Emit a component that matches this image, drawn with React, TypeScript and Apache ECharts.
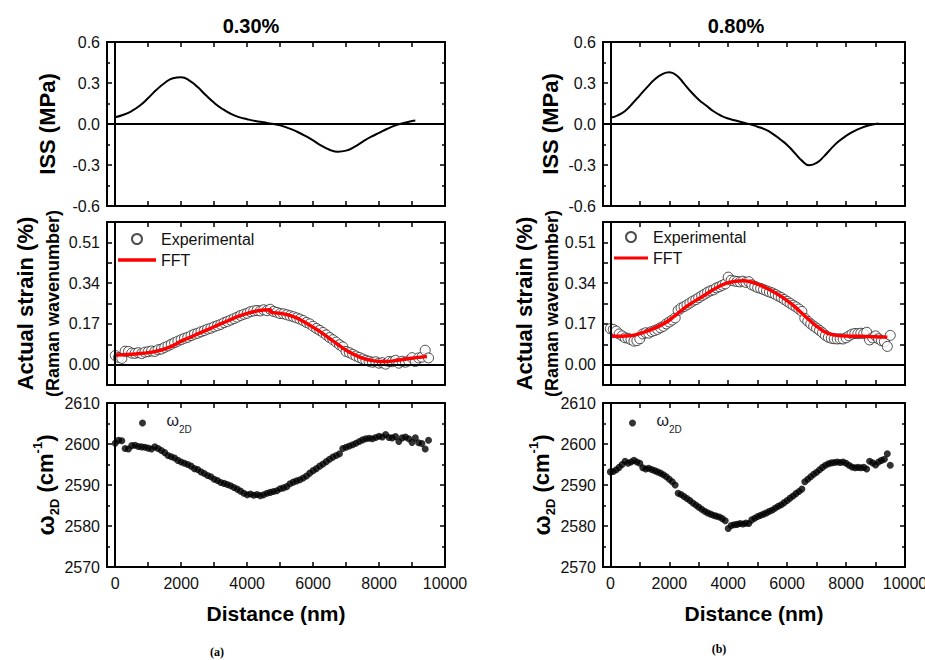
import React, { useEffect, useRef } from 'react';
import * as echarts from 'echarts';

// ---------- data ----------
const TITLES = ['0.30%', '0.80%'];
const PANEL_TAGS = ['(a)', '(b)'];

const DIST_TICKS = [0, 2000, 4000, 6000, 8000, 10000];
const ISS_TICKS = [-0.6, -0.3, 0, 0.3, 0.6];
const STRAIN_TICKS = [0, 0.17, 0.34, 0.51];
const OMEGA_TICKS = [2570, 2580, 2590, 2600, 2610];

// distance (nm) of the measured points
const DIST_EXP = [
  0, 100, 200, 300, 400, 500, 600, 700, 800, 900,
  1000, 1100, 1200, 1300, 1400, 1500, 1600, 1700, 1800, 1900,
  2000, 2100, 2200, 2300, 2400, 2500, 2600, 2700, 2800, 2900,
  3000, 3100, 3200, 3300, 3400, 3500, 3600, 3700, 3800, 3900,
  4000, 4100, 4200, 4300, 4400, 4500, 4600, 4700, 4800, 4900,
  5000, 5100, 5200, 5300, 5400, 5500, 5600, 5700, 5800, 5900,
  6000, 6100, 6200, 6300, 6400, 6500, 6600, 6700, 6800, 6900,
  7000, 7100, 7200, 7300, 7400, 7500, 7600, 7700, 7800, 7900,
  8000, 8100, 8200, 8300, 8400, 8500, 8600, 8700, 8800, 8900,
  9000, 9100, 9200, 9300, 9400, 9500,
];

// (a) 0.30 %
const STRAIN_A = [
  0.038, 0.030, 0.026, 0.056, 0.055, 0.048, 0.047, 0.050, 0.046, 0.052,
  0.054, 0.057, 0.055, 0.062, 0.065, 0.072, 0.078, 0.085, 0.092, 0.098,
  0.104, 0.110, 0.114, 0.121, 0.127, 0.131, 0.137, 0.142, 0.148, 0.152,
  0.158, 0.163, 0.168, 0.175, 0.180, 0.186, 0.192, 0.198, 0.205, 0.210,
  0.214, 0.221, 0.224, 0.226, 0.224, 0.229, 0.225, 0.231, 0.222, 0.218,
  0.213, 0.212, 0.208, 0.204, 0.200, 0.195, 0.190, 0.184, 0.176, 0.170,
  0.160, 0.151, 0.143, 0.134, 0.124, 0.113, 0.104, 0.094, 0.083, 0.074,
  0.055, 0.050, 0.043, 0.036, 0.030, 0.024, 0.018, 0.014, 0.010, 0.012,
  0.006, 0.008, 0.002, 0.013, 0.012, 0.018, 0.006, 0.014, 0.010, 0.016,
  0.029, 0.013, 0.028, 0.031, 0.060, 0.028,
];
const OMEGA_A = [
  2600.2, 2600.9, 2600.8, 2598.9, 2598.8, 2599.6, 2599.7, 2599.4, 2599.3, 2599.2,
  2599.0, 2598.8, 2599.3, 2598.9, 2598.4, 2597.9, 2597.2, 2596.9, 2596.6, 2596.0,
  2595.6, 2595.3, 2595.0, 2594.6, 2594.0, 2593.8, 2593.2, 2592.8, 2592.3, 2592.0,
  2591.4, 2591.1, 2590.6, 2590.4, 2590.1, 2589.8, 2589.4, 2589.0, 2588.5, 2588.0,
  2587.6, 2587.8, 2587.5, 2587.7, 2587.4, 2587.6, 2588.0, 2588.2, 2588.4, 2588.6,
  2589.1, 2589.3, 2589.6, 2590.3, 2590.7, 2591.0, 2591.3, 2591.7, 2592.2, 2592.9,
  2593.5, 2594.0, 2594.6, 2595.1, 2595.7, 2596.3, 2596.8, 2597.2, 2597.6, 2598.9,
  2599.2, 2599.5, 2599.8, 2600.2, 2600.6, 2601.0, 2601.3, 2601.4, 2601.3, 2601.6,
  2601.9, 2601.7, 2602.3, 2601.6, 2601.5, 2601.8, 2600.6, 2601.5, 2601.7, 2601.3,
  2600.4, 2601.5, 2600.3, 2600.1, 2598.8, 2600.9,
];

// (b) 0.80 %
const STRAIN_B = [
  0.150, 0.147, 0.140, 0.128, 0.120, 0.112, 0.110, 0.104, 0.098, 0.100,
  0.108, 0.128, 0.133, 0.131, 0.138, 0.142, 0.147, 0.154, 0.160, 0.170,
  0.178, 0.186, 0.195, 0.226, 0.236, 0.242, 0.249, 0.257, 0.265, 0.271,
  0.279, 0.287, 0.294, 0.302, 0.308, 0.312, 0.320, 0.325, 0.331, 0.337,
  0.365, 0.352, 0.349, 0.347, 0.345, 0.348, 0.343, 0.346, 0.333, 0.327,
  0.321, 0.318, 0.313, 0.308, 0.303, 0.299, 0.293, 0.286, 0.280, 0.272,
  0.264, 0.256, 0.248, 0.241, 0.232, 0.222, 0.193, 0.181, 0.170, 0.161,
  0.152, 0.143, 0.133, 0.122, 0.114, 0.110, 0.108, 0.107, 0.108, 0.107,
  0.112, 0.120, 0.127, 0.130, 0.129, 0.131, 0.129, 0.135, 0.103, 0.112,
  0.120, 0.108, 0.100, 0.096, 0.076, 0.122,
];
const OMEGA_B = [
  2593.2, 2593.3, 2593.7, 2594.3, 2595.0, 2595.8, 2595.3, 2595.6, 2596.0, 2595.6,
  2595.3, 2594.2, 2593.9, 2594.1, 2593.8, 2593.5, 2593.2, 2592.9, 2592.5, 2592.0,
  2591.4, 2590.8, 2590.0, 2588.0, 2587.7, 2587.2, 2586.7, 2586.2, 2585.6, 2585.1,
  2584.6, 2584.1, 2583.6, 2583.2, 2582.9, 2582.6, 2582.4, 2582.2, 2581.8, 2581.3,
  2579.4, 2580.1, 2580.3, 2580.4, 2580.6, 2580.5, 2580.7, 2580.6, 2581.5, 2581.9,
  2582.3, 2582.6, 2582.9, 2583.2, 2583.6, 2583.9, 2584.4, 2584.8, 2585.2, 2585.7,
  2586.2, 2586.8, 2587.3, 2587.9, 2588.4, 2589.0, 2590.8, 2591.4, 2592.0, 2592.6,
  2593.1, 2593.7, 2594.3, 2594.8, 2595.2, 2595.4, 2595.5, 2595.6, 2595.5, 2595.6,
  2595.3, 2594.8, 2594.4, 2594.2, 2594.3, 2594.2, 2594.3, 2593.9, 2595.8, 2595.4,
  2594.9, 2595.6, 2596.0, 2596.3, 2597.6, 2594.8,
];

// interfacial shear stress curves
const ISS_X = [
  0, 250, 500, 750, 1000, 1250, 1500, 1750, 2000, 2250,
  2500, 2750, 3000, 3250, 3500, 3750, 4000, 4250, 4500, 4750,
  5000, 5250, 5500, 5750, 6000, 6250, 6500, 6750, 7000, 7250,
  7500, 7750, 8000, 8250, 8500, 8750, 9000, 9100,
];
const ISS_A = [
  0.05, 0.068, 0.095, 0.135, 0.19, 0.25, 0.30, 0.335, 0.342, 0.318,
  0.27, 0.21, 0.155, 0.11, 0.075, 0.05, 0.035, 0.022, 0.012, 0.002,
  -0.01, -0.03, -0.055, -0.085, -0.12, -0.158, -0.188, -0.203, -0.195, -0.167,
  -0.13, -0.095, -0.065, -0.035, -0.01, 0.008, 0.022, 0.026,
];
const ISS_B = [
  0.045, 0.063, 0.095, 0.15, 0.21, 0.27, 0.325, 0.363, 0.378, 0.355,
  0.295, 0.232, 0.178, 0.135, 0.093, 0.062, 0.04, 0.025, 0.012, -0.003,
  -0.02, -0.04, -0.07, -0.11, -0.153, -0.21, -0.268, -0.302, -0.285, -0.237,
  -0.178, -0.127, -0.087, -0.055, -0.03, -0.012, 0.0, 0.004,
];

// FFT fits
const FFT_X_A = [
  0, 250, 500, 750, 1000, 1250, 1500, 1750, 2000, 2250,
  2500, 2750, 3000, 3250, 3500, 3750, 4000, 4250, 4500, 4700,
  4720, 5000, 5250, 5500, 5750, 6000, 6250, 6500, 6750, 7000,
  7250, 7500, 7750, 8000, 8250, 8500, 8750, 9000, 9250, 9450,
];
const FFT_A = [
  0.040, 0.041, 0.043, 0.046, 0.050, 0.056, 0.066, 0.079, 0.098, 0.113,
  0.128, 0.143, 0.158, 0.173, 0.188, 0.202, 0.214, 0.223, 0.228, 0.229,
  0.219, 0.214, 0.207, 0.195, 0.177, 0.156, 0.134, 0.109, 0.084, 0.060,
  0.042, 0.027, 0.018, 0.013, 0.013, 0.017, 0.022, 0.027, 0.031, 0.034,
];
const FFT_X_B = [
  0, 250, 500, 750, 1000, 1250, 1500, 1750, 2000, 2250,
  2500, 2750, 3000, 3250, 3500, 3750, 4000, 4250, 4500, 4750,
  5000, 5250, 5500, 5750, 6000, 6250, 6500, 6750, 7000, 7250,
  7500, 7750, 8000, 8250, 8500, 8750, 9000, 9250, 9400,
];
const FFT_B = [
  0.118, 0.118, 0.119, 0.122, 0.130, 0.140, 0.152, 0.167, 0.185, 0.210,
  0.235, 0.256, 0.275, 0.294, 0.313, 0.330, 0.342, 0.348, 0.350, 0.346,
  0.336, 0.322, 0.306, 0.288, 0.267, 0.243, 0.214, 0.186, 0.160, 0.138,
  0.126, 0.121, 0.119, 0.118, 0.118, 0.117, 0.116, 0.115, 0.114,
];

// ---------- styling / layout ----------
const FONT = "'Liberation Sans', Arial, Helvetica, sans-serif";
const SERIF = "'Liberation Serif', 'Times New Roman', serif";
const INK = '#000';
const LABEL = '#111';

const zip = (xs: number[], ys: number[]) => xs.map((x, i) => [x, ys[i]]);
const near = (v: number, list: number[]) => list.some((t) => Math.abs(t - v) < 1e-6);

function buildOption() {
  const cols = [
    {
      left: 107, width: 338, titleX: 251, tagX: 217, tagY: 646,
      gaps: [49, 42, 46], legendX: 118, legendW: 38, omegaX: 139, legendTop: 231,
      iss: ISS_A, strain: STRAIN_A, omega: OMEGA_A, fftX: FFT_X_A, fft: FFT_A,
    },
    {
      left: 603, width: 302, titleX: 736, tagX: 719, tagY: 643,
      gaps: [42, 34, 38], legendX: 614, legendW: 34, omegaX: 629, legendTop: 229,
      iss: ISS_B, strain: STRAIN_B, omega: OMEGA_B, fftX: FFT_X_B, fft: FFT_B,
    },
  ];
  const rows = [
    { top: 42, height: 164 },
    { top: 222, height: 163 },
    { top: 403, height: 164 },
  ];

  const grid: any[] = [];
  const xAxis: any[] = [];
  const yAxis: any[] = [];
  const series: any[] = [];
  const title: any[] = [];
  const legend: any[] = [];

  const axisLine = { show: true, onZero: false, lineStyle: { color: INK, width: 2 } };
  const axisTick = { show: true, inside: true, length: 5, lineStyle: { color: INK, width: 1.5 } };
  const minorTick = { show: true, splitNumber: 2, length: 3, lineStyle: { color: INK, width: 1.5 } };
  const labelBase = { fontSize: 16, color: LABEL, fontFamily: FONT };
  const nameBase = { fontSize: 22, fontWeight: 'bold', color: INK, fontFamily: FONT };

  const zeroLine = (withY: boolean) => ({
    silent: true,
    symbol: ['none', 'none'],
    label: { show: false },
    lineStyle: { color: INK, width: 2, type: 'solid' },
    emphasis: { disabled: true },
    data: withY ? [{ xAxis: 0 }, { yAxis: 0 }] : [{ xAxis: 0 }],
  });

  cols.forEach((col, c) => {
    rows.forEach((row, r) => {
      const g = c * 3 + r;
      grid.push({ left: col.left, top: row.top, width: col.width, height: row.height, outerBoundsMode: 'none' });
      const isBottom = r === 2;
      xAxis.push({
        type: 'value', gridIndex: g, position: 'bottom',
        min: -250, max: 10000, minInterval: 1000, maxInterval: 1000, splitNumber: 10,
        axisLine, axisTick, splitLine: { show: false },
        axisLabel: {
          show: isBottom, margin: 8, ...labelBase,
          formatter: (v: number) => (near(v, DIST_TICKS) ? String(Math.round(v)) : ''),
        },
        name: isBottom ? 'Distance (nm)' : '',
        nameLocation: 'middle', nameGap: 36,
        nameTextStyle: { ...nameBase, fontSize: 21 },
      });
      xAxis.push({
        type: 'value', gridIndex: g, position: 'top',
        min: -250, max: 10000, minInterval: 1000, maxInterval: 1000, splitNumber: 10,
        axisLine, axisTick, splitLine: { show: false }, axisLabel: { show: false },
      });

      let yCfg: any;
      if (r === 0) {
        yCfg = {
          min: -0.6, max: 0.6, interval: 0.3, minorTick,
          formatter: (v: number) => (near(v, ISS_TICKS) ? v.toFixed(1) : ''),
          name: 'ISS (MPa)',
          nameTextStyle: { ...nameBase },
        };
      } else if (r === 1) {
        yCfg = {
          min: -0.085, max: 0.595, interval: 0.085, minorTick: { show: false },
          formatter: (v: number) => (near(v, STRAIN_TICKS) ? v.toFixed(2) : ''),
          name: '{a|Actual strain (%)}\n{b|(Raman wavenumber)}',
          nameTextStyle: {
            color: INK,
            rich: {
              a: { fontSize: 22, fontWeight: 'bold', fontFamily: FONT, color: INK, lineHeight: 31 },
              b: { fontSize: 18, fontWeight: 'bold', fontFamily: FONT, color: INK, lineHeight: 24 },
            },
          },
        };
      } else {
        yCfg = {
          min: 2570, max: 2610, interval: 10, minorTick,
          formatter: (v: number) => (near(v, OMEGA_TICKS) ? String(Math.round(v)) : ''),
          name: '{w|ω}{s|2D}{t| (cm}{p|-1}{t|)}',
          nameTextStyle: {
            color: INK,
            rich: {
              w: { fontSize: 24, fontWeight: 'bold', fontFamily: FONT, color: INK, lineHeight: 30 },
              s: { fontSize: 13, fontWeight: 'bold', fontFamily: FONT, color: INK, lineHeight: 30, verticalAlign: 'bottom' },
              t: { fontSize: 22, fontWeight: 'bold', fontFamily: FONT, color: INK, lineHeight: 30 },
              p: { fontSize: 13, fontWeight: 'bold', fontFamily: FONT, color: INK, lineHeight: 30, verticalAlign: 'top' },
            },
          },
        };
      }
      yAxis.push({
        type: 'value', gridIndex: g, position: 'left',
        min: yCfg.min, max: yCfg.max, interval: yCfg.interval,
        axisLine, axisTick, minorTick: yCfg.minorTick, splitLine: { show: false }, minorSplitLine: { show: false },
        axisLabel: { show: true, margin: 7, ...labelBase, formatter: yCfg.formatter },
        name: yCfg.name, nameLocation: 'middle', nameRotate: 90, nameGap: col.gaps[r],
        nameTextStyle: yCfg.nameTextStyle,
      });
      yAxis.push({
        type: 'value', gridIndex: g, position: 'right',
        min: yCfg.min, max: yCfg.max, interval: yCfg.interval,
        axisLine, axisTick, minorTick: yCfg.minorTick, splitLine: { show: false }, minorSplitLine: { show: false },
        axisLabel: { show: false },
      });
    });

    const ai = (r: number) => 2 * (c * 3 + r);

    series.push({
      type: 'line', name: 'ISS', xAxisIndex: ai(0), yAxisIndex: ai(0),
      data: zip(ISS_X, col.iss), smooth: 0.5, symbol: 'none',
      lineStyle: { color: INK, width: 2 }, itemStyle: { color: INK },
      markLine: zeroLine(true), z: 3,
    });
    series.push({
      type: 'scatter', name: 'Experimental', xAxisIndex: ai(1), yAxisIndex: ai(1),
      data: zip(DIST_EXP, col.strain), symbol: 'circle', symbolSize: 10,
      itemStyle: { color: '#fff', borderColor: '#222', borderWidth: 1 },
      markLine: zeroLine(true), z: 2,
    });
    series.push({
      type: 'line', name: 'FFT', xAxisIndex: ai(1), yAxisIndex: ai(1),
      data: zip(col.fftX, col.fft), smooth: 0.3, symbol: 'none', showSymbol: false,
      lineStyle: { color: '#ff0000', width: 3.5 }, itemStyle: { color: '#ff0000' }, z: 4,
    });
    series.push({
      type: 'scatter', name: 'ω2D', xAxisIndex: ai(2), yAxisIndex: ai(2),
      data: zip(DIST_EXP, col.omega), symbol: 'circle', symbolSize: 7,
      itemStyle: { color: INK }, markLine: zeroLine(false), z: 2,
    });

    title.push({
      text: TITLES[c], left: col.titleX, top: 16, textAlign: 'center', padding: 0,
      textStyle: { fontSize: 20, fontWeight: 'bold', color: INK, fontFamily: FONT },
    });
    title.push({
      text: PANEL_TAGS[c], left: col.tagX, top: col.tagY, textAlign: 'center', padding: 0,
      textStyle: { fontSize: 12, fontWeight: 'bold', color: INK, fontFamily: SERIF },
    });

    legend.push({
      left: col.legendX, top: col.legendTop, orient: 'vertical', padding: 0,
      data: [
        { name: 'Experimental' },
        { name: 'FFT', icon: 'path://M0,0H38V3.5H0Z' },
      ],
      itemWidth: col.legendW, itemHeight: 10, itemGap: 5,
      selectedMode: false,
      textStyle: { fontSize: 16, color: LABEL, fontFamily: FONT },
    });
    legend.push({
      left: col.omegaX, top: 412, orient: 'vertical', padding: 0,
      data: ['ω2D'], itemWidth: 38, itemHeight: 7, selectedMode: false,
      formatter: () => '{w|ω}{s|2D}',
      textStyle: {
        color: '#1a1a2e', fontFamily: FONT,
        rich: {
          w: { fontSize: 16, color: '#1a1a2e', fontFamily: FONT, lineHeight: 22, verticalAlign: 'top' },
          s: { fontSize: 10, color: '#1a1a2e', fontFamily: FONT, lineHeight: 22, verticalAlign: 'bottom' },
        },
      },
    });
  });

  return {
    animation: false,
    backgroundColor: '#fff',
    title,
    legend,
    grid,
    xAxis,
    yAxis,
    series,
  };
}

export default function App() {
  const ref = useRef<HTMLDivElement>(null);
  useEffect(() => {
    if (!ref.current) return;
    const chart = echarts.init(ref.current, null, { renderer: 'svg' });
    chart.setOption(buildOption() as any);
    return () => chart.dispose();
  }, []);
  return (
    <div
      ref={ref}
      style={{ position: 'fixed', left: 0, top: 0, width: 925, height: 660, background: '#fff' }}
    />
  );
}
